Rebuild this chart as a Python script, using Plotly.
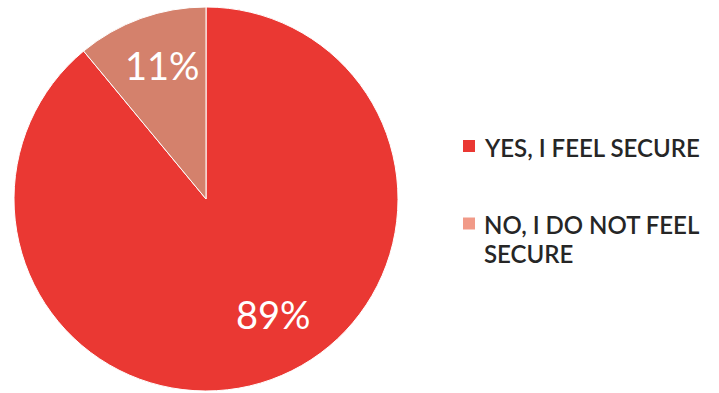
import math
import plotly.graph_objects as go

labels = ["YES, I FEEL SECURE", "NO, I DO NOT FEEL SECURE"]
legend_lines = [["YES, I FEEL SECURE"], ["NO, I DO NOT FEEL", "SECURE"]]
values = [89, 11]
slice_colors = ["#EA3833", "#D4816C"]
swatch_colors = ["#EA3833", "#F19A88"]

W, H = 719, 393
CX, CY, R = 206, 199, 192  # pie centre / radius in pixels

fig = go.Figure(go.Pie(
    labels=labels,
    values=values,
    sort=False,
    direction="clockwise",
    rotation=0,
    marker=dict(colors=slice_colors, line=dict(color="white", width=1)),
    textinfo="none",
    showlegend=False,
    domain=dict(x=[(CX - R) / W, (CX + R) / W], y=[(H - CY - R) / H, (H - CY + R) / H]),
    hoverinfo="label+percent",
))

# percentage labels, placed along each slice (angle measured clockwise from 12 o'clock)
total = sum(values)
label_radius = [0.71, 0.72]
label_shift_deg = [-10, 1.4]
start = 0.0
for v, rf, shift in zip(values, label_radius, label_shift_deg):
    mid = 360.0 * (start + v / 2) / total + shift
    start += v
    a = math.radians(mid)
    px = CX + rf * R * math.sin(a)
    py = CY - rf * R * math.cos(a) - 3  # lift so the digits, not the line box, are centred
    fig.add_annotation(xref="paper", yref="paper", x=px / W, y=1 - py / H,
                       xanchor="center", yanchor="middle", showarrow=False,
                       text=f"{round(100 * v / total)}%",
                       font=dict(family="Lato", size=38, color="white"))

# hand-built legend: swatch + label lines
swatch_y = [146, 223.5]
line_y = [[147], [225, 253]]
for lines, col, sy, ys in zip(legend_lines, swatch_colors, swatch_y, line_y):
    fig.add_shape(type="rect", xref="paper", yref="paper",
                  x0=463 / W, x1=475 / W,
                  y0=1 - (sy + 6) / H, y1=1 - (sy - 6) / H,
                  fillcolor=col, line=dict(width=0))
    for txt, ty in zip(lines, ys):
        fig.add_annotation(xref="paper", yref="paper", x=482 / W, y=1 - ty / H,
                           xanchor="left", yanchor="middle", align="left",
                           text=txt, showarrow=False,
                           font=dict(family="Lato", size=24, color="#262626", weight=600))

fig.update_layout(
    width=W, height=H,
    margin=dict(l=0, r=0, t=0, b=0),
    paper_bgcolor="white",
    plot_bgcolor="white",
)

fig.write_html("out.html")
